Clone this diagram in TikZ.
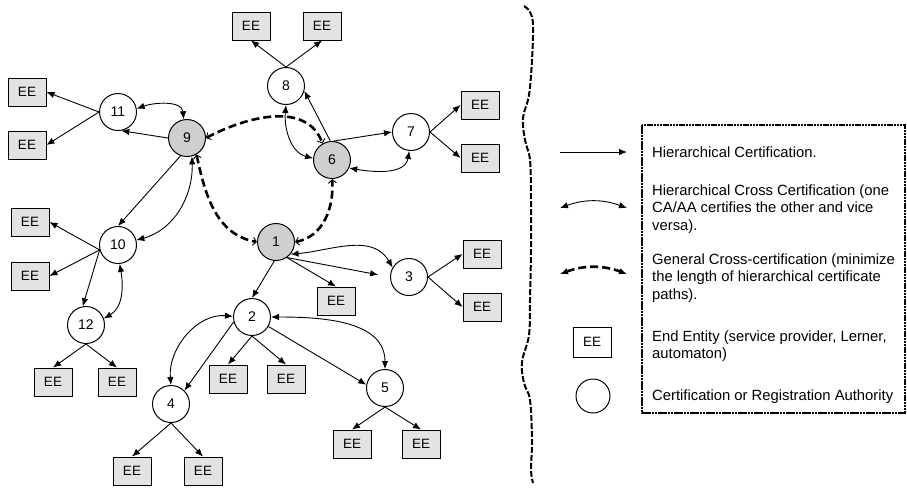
\documentclass[tikz,border=0pt]{standalone}
\usepackage{fontspec}
\setmainfont{Liberation Sans}
\usetikzlibrary{arrows.meta}
\begin{document}
\begin{tikzpicture}[x=1pt,y=1pt,
  ca/.style={circle,draw,line width=1pt,minimum size=37pt,inner sep=0pt,fill=white,
    font=\fontsize{14}{16}\selectfont},
  rootca/.style={ca,fill=gray!38},
  ee/.style={rectangle,draw,line width=0.9pt,minimum width=38pt,minimum height=28pt,
    inner sep=0pt,fill=gray!22,font=\fontsize{13.5}{16}\selectfont},
  hier/.style={-{Latex[length=8pt,width=6.5pt]},line width=0.9pt},
  cross/.style={{Latex[length=8pt,width=6.5pt]}-{Latex[length=8pt,width=6.5pt]},line width=0.9pt},
  general/.style={{Straight Barb[length=3.5pt,width=8pt,line width=0.9pt]}-{Straight Barb[length=3.5pt,width=8pt,line width=0.9pt]},
    line width=2.6pt,dash pattern=on 8pt off 4pt},
  legtext/.style={anchor=west,align=left,inner sep=0pt,font=\fontsize{14.8}{17.5}\selectfont},
  bracket/.style={line width=2pt,dash pattern=on 6pt off 2pt}
]
\fill[white] (0,0) rectangle (907,-488);
\useasboundingbox (0,0) rectangle (907,-488);

% certification / registration authorities
\node[ca]     (n11) at (118,-112) {11};
\node[rootca] (n9)  at (187,-138) {9};
\node[ca]     (n8)  at (286,-86)  {8};
\node[rootca] (n6)  at (332,-160) {6};
\node[ca]     (n7)  at (411,-132) {7};
\node[rootca] (n1)  at (276,-242) {1};
\node[ca]     (n10) at (118,-245) {10};
\node[ca]     (n12) at (86,-325)  {12};
\node[ca]     (n2)  at (252,-317) {2};
\node[ca]     (n3)  at (409,-277) {3};
\node[ca]     (n4)  at (171,-404) {4};
\node[ca]     (n5)  at (385,-388) {5};

% end entities
\node[ee] (e8a)  at (251,-26)  {EE};
\node[ee] (e8b)  at (322,-26)  {EE};
\node[ee] (e11a) at (27,-92)   {EE};
\node[ee] (e11b) at (27,-145)  {EE};
\node[ee] (e10a) at (30,-222)  {EE};
\node[ee] (e10b) at (30,-276)  {EE};
\node[ee] (e7a)  at (480,-105) {EE};
\node[ee] (e7b)  at (480,-158) {EE};
\node[ee] (e3a)  at (482,-254) {EE};
\node[ee] (e3b)  at (482,-307) {EE};
\node[ee] (e1)   at (336,-301) {EE};
\node[ee] (e12a) at (53,-382)  {EE};
\node[ee] (e12b) at (117,-382) {EE};
\node[ee] (e2a)  at (228,-379) {EE};
\node[ee] (e2b)  at (286,-379) {EE};
\node[ee] (e4a)  at (132,-471) {EE};
\node[ee] (e4b)  at (203,-471) {EE};
\node[ee] (e5a)  at (352,-444) {EE};
\node[ee] (e5b)  at (421,-444) {EE};

% hierarchical certification
\draw[hier] (n8.north) -- (e8a.south);
\draw[hier] (n8.north) -- (e8b.south);
\draw[hier] (n11.west) -- (e11a.east);
\draw[hier] (n11.west) -- (e11b.east);
\draw[hier] (n9.west) -- (n11.-80);
\draw[hier] (n9.-110) -- (n10.north);
\draw[hier] (n10.-165) -- (e10a.east);
\draw[hier] (n10.-165) -- (e10b.east);
\draw[hier] (n10.-165) -- (n12.100);
\draw[hier] (n12.south) -- (e12a.north);
\draw[hier] (n12.south) -- (e12b.north);
\draw[hier] (n6.95) -- (n8.-15);
\draw[hier] (n6.85) -- (n7.west);
\draw[hier] (n7.east) -- (e7a.west);
\draw[hier] (n7.east) -- (e7b.west);
\draw[hier] (n1.-95) -- (n2.north);
\draw[hier] (n1.-55) -- (e1.north);
\draw[hier,shorten >=12pt] (n1.-55) -- (n3.west);
\draw[hier] (n3.east) -- (e3a.west);
\draw[hier] (n3.east) -- (e3b.west);
\draw[hier] (n2.south) -- (e2a.north);
\draw[hier] (n2.south) -- (e2b.north);
\draw[hier] (n2.-165) -- (n4.45);
\draw[hier] (n2.-30) -- (n5.170);
\draw[hier] (n4.south) -- (e4a.north);
\draw[hier] (n4.south) -- (e4b.north);
\draw[hier] (n5.south) -- (e5a.north);
\draw[hier] (n5.south) -- (e5b.north);

% hierarchical cross certification
\draw[cross] (n11.10) to[out=20,in=95] (n9.100);
\draw[cross] (n9.-75) to[out=-88,in=15] (n10.15);
\draw[cross] (n10.-85) to[out=-80,in=30] (n12.20);
\draw[cross] (n8.-90) to[out=-95,in=165] (n6.175);
\draw[cross] (n6.-25) to[out=-10,in=-100] (n7.-95);
\draw[cross] (n1.-40) to[out=5,in=120] (n3.150);
\draw[cross] (n2.178) to[out=175,in=95] (n4.north);
\draw[cross] (n2.east) to[out=0,in=90] (n5.north);

% general cross certification
\draw[general] (n9.east) to[out=28,in=110] (n6.120);
\draw[general] (n9.-60) to[out=-78,in=170] (n1.west);
\draw[general] (n1.east) to[out=10,in=-85] (n6.south);

% separating brace
\draw[bracket] plot[smooth,tension=0.6] coordinates {
  (524,-6) (530,-12) (533,-25) (532,-60) (529,-95) (523,-118) (525,-140)
  (530,-160) (531,-200) (531,-250) (530,-300) (529,-335) (522,-362)
  (524,-383) (530,-400) (532,-440) (531,-470) (533,-483)};

% legend
\draw[line width=1.5pt,dash pattern=on 2.5pt off 0.7pt] (642,-125) rectangle (905,-413);
\coordinate (l1a) at (560,-152); \coordinate (l1b) at (627,-152);
\draw[hier] (l1a) -- (l1b);
\coordinate (l2a) at (560,-208); \coordinate (l2b) at (627,-208);
\draw[cross] (l2a) to[out=20,in=160] (l2b);
\coordinate (l3a) at (560,-274); \coordinate (l3b) at (627,-274);
\draw[{Latex[length=8pt,width=6.5pt]}-{Latex[length=8pt,width=6.5pt]},line width=2.6pt,dash pattern=on 8pt off 4pt]
  (l3a) to[out=20,in=160] (l3b);
\node[ee,fill=white,minimum height=30pt] (l4) at (592,-342) {EE};
\node[ca,minimum size=34pt] (l5) at (593,-396) {};

\node[legtext] (t1) at (652,-152) {Hierarchical Certification.};
\node[legtext] (t2) at (652,-209) {Hierarchical Cross Certification (one\\CA/AA certifies the other and vice\\versa).};
\node[legtext] (t3) at (652,-278) {General Cross-certification (minimize\\the length of hierarchical certificate\\paths).};
\node[legtext] (t4) at (652,-346) {End Entity (service provider, Lerner,\\automaton)};
\node[legtext] (t5) at (652,-397) {Certification or Registration Authority};
\end{tikzpicture}
\end{document}
